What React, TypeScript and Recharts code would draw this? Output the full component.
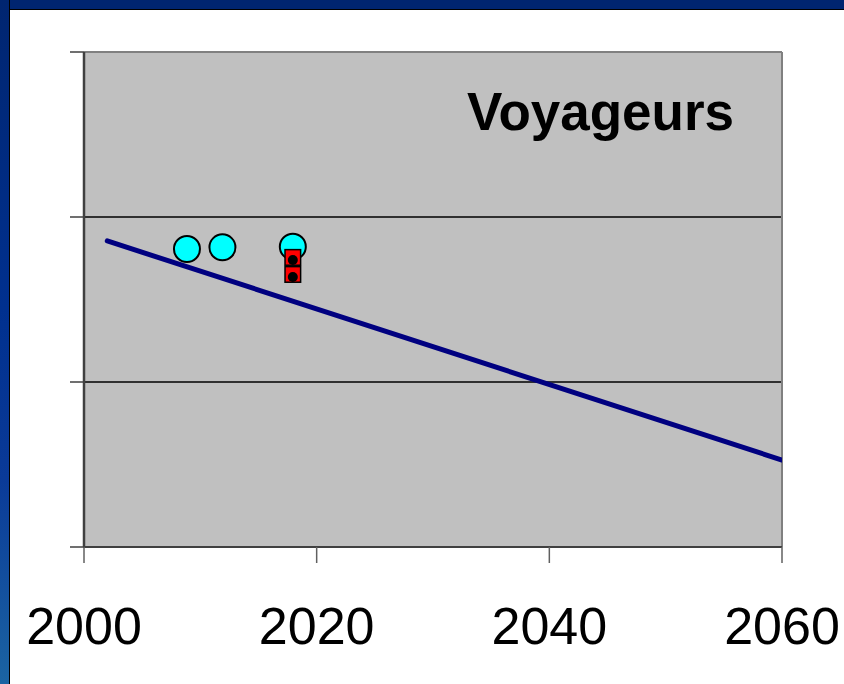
import React from "react";
import {
  ComposedChart,
  Scatter,
  XAxis,
  YAxis,
  CartesianGrid,
  ReferenceLine,
  Customized,
} from "recharts";

// ---- data ----
const xTicks = [2000, 2020, 2040, 2060];
const yTicks = [0, 1, 2, 3];
const trendYears = [2002, 2060];
const trendValues = [1.855, 0.527];
const circleYears = [2008.85, 2011.9, 2017.95];
const circleValues = [1.806, 1.816, 1.82];
const squareYears = [2017.95, 2017.95];
const squareValues = [1.755, 1.652];
const title = "Voyageurs";

const trendData = trendYears.map((year, i) => ({ year, v: trendValues[i] }));
const circleData = circleYears.map((year, i) => ({ year, v: circleValues[i] }));
const squareData = squareYears.map((year, i) => ({ year, v: squareValues[i] }));

const CircleShape = (props: any) => {
  const { cx, cy } = props;
  return <circle cx={cx} cy={cy} r={13} fill="#00FFFF" stroke="#000" strokeWidth={2} />;
};

const SquareShape = (props: any) => {
  const { cx, cy } = props;
  return (
    <g>
      <rect x={cx - 7.8} y={cy - 7.8} width={15.6} height={15.6} fill="#FF0000" stroke="#000" strokeWidth={1.5} />
      <circle cx={cx} cy={cy + 2.5} r={5} fill="#000" />
    </g>
  );
};

const NoShape = () => <g />;

const Title = () => (
  <text
    x={467}
    y={129.5}
    fontFamily="Liberation Sans, Arial, sans-serif"
    fontWeight="bold"
    fontSize={53}
    fill="#000"
  >
    {title}
  </text>
);

export default function App() {
  return (
    <div
      style={{
        position: "absolute",
        left: 0,
        top: 0,
        width: 844,
        height: 684,
        background: "#fff",
        overflow: "hidden",
      }}
    >
      <ComposedChart
        width={844}
        height={684}
        margin={{ top: 52, right: 62, bottom: 47, left: 68 }}
        style={{ fontFamily: "Liberation Sans, Arial, sans-serif" }}
      >
        <CartesianGrid
          vertical={false}
          fill="#C0C0C0"
          stroke="#000"
          strokeWidth={1.5}
          fillOpacity={1}
        />
        <XAxis
          type="number"
          dataKey="year"
          domain={[2000, 2060]}
          ticks={xTicks}
          allowDataOverflow
          height={90}
          tickSize={16}
          tickMargin={44}
          stroke="#404040"
          axisLine={{ stroke: "#404040", strokeWidth: 2 }}
          tickLine={{ stroke: "#606060", strokeWidth: 1.5 }}
          tick={{ fill: "#000", fontSize: 52, fontFamily: "Liberation Sans, Arial, sans-serif" }}
        />
        <YAxis
          type="number"
          dataKey="v"
          domain={[0, 3]}
          ticks={yTicks}
          interval={0}
          width={16}
          tickSize={14}
          tickMargin={0}
          tickFormatter={() => ""}
          tick={{ fontSize: 1, fill: "none" }}
          axisLine={{ stroke: "#404040", strokeWidth: 2.5 }}
          tickLine={{ stroke: "#404040", strokeWidth: 1.5 }}
        />
        <ReferenceLine y={3} stroke="#808080" strokeWidth={2} />
        <ReferenceLine x={2060} stroke="#808080" strokeWidth={2} />
        <Scatter
          data={trendData}
          dataKey="v"
          line={{ stroke: "#000080", strokeWidth: 5, strokeLinecap: "round" } as any}
          shape={NoShape}
          isAnimationActive={false}
        />
        <Scatter data={circleData} dataKey="v" shape={CircleShape} isAnimationActive={false} />
        <Scatter data={squareData} dataKey="v" shape={SquareShape} isAnimationActive={false} />
        <Customized component={Title} />
      </ComposedChart>
      {/* frame */}
      <div
        style={{
          position: "absolute",
          left: 0,
          top: 0,
          width: 844,
          height: 9,
          background: "#002570",
          borderBottom: "1px solid #000",
        }}
      />
      <div
        style={{
          position: "absolute",
          left: 0,
          top: 0,
          width: 9,
          height: 684,
          background: "linear-gradient(to bottom, #002570 0%, #00308f 45%, #0a3a98 70%, #1b64a3 100%)",
          borderRight: "1px solid #000",
        }}
      />
    </div>
  );
}
